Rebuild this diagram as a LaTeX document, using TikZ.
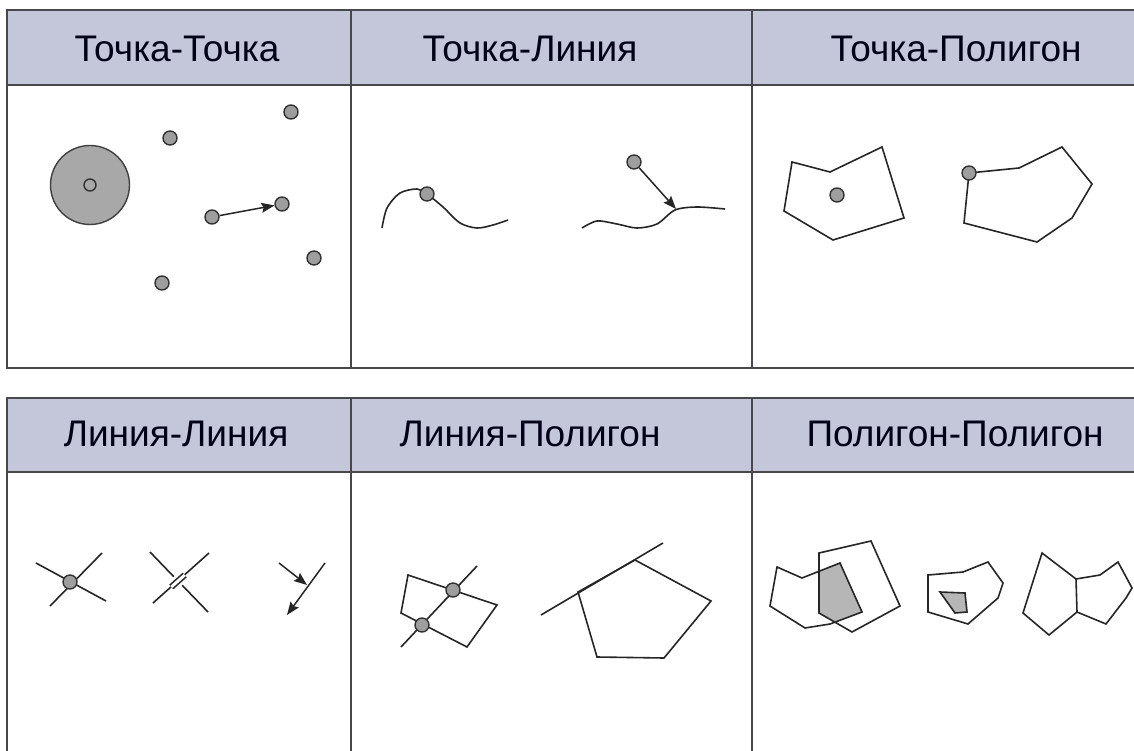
\documentclass[tikz,border=0pt]{standalone}
\usepackage{fontspec}
\setmainfont{Liberation Sans}
\usetikzlibrary{arrows.meta}
\definecolor{headfill}{RGB}{196,199,218}
\definecolor{rulecol}{RGB}{72,72,76}
\definecolor{ptfill}{RGB}{158,158,158}
\definecolor{zonefill}{RGB}{168,168,168}
\definecolor{polyfill}{RGB}{182,182,182}

\begin{document}
\begin{tikzpicture}[x=1pt,y=-1pt,>={Stealth[length=13pt,width=10pt,inset=2pt]},
  pt/.style={circle,draw=black!80,fill=ptfill,line width=1.4pt,inner sep=0pt,minimum size=14pt},
  shp/.style={draw=black!85,line width=1.6pt},
  arr/.style={->,draw=black!85,line width=1.5pt},
  hdr/.style={font=\fontsize{37}{42}\selectfont,text=black!85!blue!60!black}]
  \useasboundingbox (0,0) rectangle (1134,751);
  \fill[white] (0,0) rectangle (1134,751);
  % header bands
  \fill[headfill] (7,10) rectangle (1140,85);
  \fill[headfill] (7,398) rectangle (1140,472);
  % table rules
  \draw[rulecol,line width=2.2pt] (1140,10) -- (7,10) -- (7,368) -- (1140,368);
  \draw[rulecol,line width=2.2pt] (1140,398) -- (7,398) -- (7,760);
  \foreach \yy in {85,472}
    \draw[rulecol,line width=2.2pt] (7,\yy) -- (1140,\yy);
  \foreach \xx in {351,752} {
    \draw[rulecol,line width=1.6pt] (\xx,10) -- (\xx,368);
    \draw[rulecol,line width=1.6pt] (\xx,398) -- (\xx,760);
  }
  % headers
  \node[hdr] (hpp) at (177,49) {Точка-Точка};
  \node[hdr] (hpl) at (530,49) {Точка-Линия};
  \node[hdr] (hpg) at (956,49) {Точка-Полигон};
  \node[hdr] (hll) at (176,434) {Линия-Линия};
  \node[hdr] (hlg) at (530,434) {Линия-Полигон};
  \node[hdr] (hgg) at (955,434) {Полигон-Полигон};

  % point - point
  \node[pt,draw=black!75,fill=zonefill,minimum size=79pt] (zone) at (90,185) {};
  \node[pt,fill=zonefill,minimum size=12pt] (zc) at (90,185) {};
  \foreach \nm/\px/\py in {p1/170/138, p2/291/112, p3/212/217,
                           p4/282/204, p5/314/258, p6/162/283}
    \node[pt] (\nm) at (\px,\py) {};
  \draw[arr] (p3) -- (p4);

  % point - line
  \draw[shp] plot[smooth] coordinates {
    (382,228) (387,208) (400,193) (417,189) (427,194) (443,207)
    (460,223) (477,228) (493,225) (508,220)};
  \node[pt] (q1) at (427,194) {};
  \draw[shp] plot[smooth] coordinates {
    (582,228) (597,221) (617,224) (637,228) (657,224) (675,210)
    (697,207) (725,209)};
  \node[pt] (q2) at (634,162) {};
  \coordinate (q2hit) at (676,209);
  \draw[arr] (q2) -- (q2hit);

  % point - polygon
  \draw[shp] (792,162) -- (830,172) -- (882,147) -- (904,218) -- (833,240) -- (784,211) -- cycle;
  \node[pt] (r1) at (837,195) {};
  \draw[shp] (969,173) -- (1019,168) -- (1062,147) -- (1092,184) -- (1072,218) -- (1037,242) -- (964,223) -- cycle;
  \node[pt] (r2) at (969,173) {};

  % line - line: crossing with a point
  \draw[shp] (36,563) -- (106,601);
  \draw[shp] (50,606) -- (102,553);
  \node[pt] (s1) at (70,582) {};
  % line - line: bridge, no crossing
  \draw[shp] (150,552) -- (173.8,576.7);
  \draw[shp] (182.2,585.3) -- (208,612);
  \draw[shp] (153,603) -- (209,553);
  \draw[shp,double=white,double distance=3pt] (171.3,587) -- (184.7,575);
  % line - line: touching
  \coordinate (t1) at (279,563);
  \coordinate (t2) at (307,585);
  \coordinate (t3) at (325,563);
  \coordinate (t4) at (287,615);
  \draw[arr] (t1) -- (t2);
  \draw[arr] (t3) -- (t4);

  % line - polygon
  \draw[shp] (408,575) -- (497,605) -- (467,647) -- (401,613) -- cycle;
  \coordinate (la) at (477,566);
  \coordinate (lb) at (401,647);
  \draw[shp] (la) -- (lb);
  \node[pt] (u1) at (453,590) {};
  \node[pt] (u2) at (422,625) {};
  \draw[shp] (578,592) -- (635,560) -- (711,601) -- (664,658) -- (597,657) -- cycle;
  \coordinate (lc) at (541,615);
  \coordinate (ld) at (663,543);
  \draw[shp] (lc) -- (ld);

  % polygon - polygon: overlap
  \begin{scope}
    \clip (819,553) -- (871,541) -- (900,606) -- (852,632) -- (819,613) -- cycle;
    \fill[polyfill] (777,567) -- (802,578) -- (840,563) -- (862,612) -- (830,624) -- (805,628) -- (770,606) -- cycle;
  \end{scope}
  \draw[shp] (777,567) -- (802,578) -- (840,563) -- (862,612) -- (830,624) -- (805,628) -- (770,606) -- cycle;
  \draw[shp] (819,553) -- (871,541) -- (900,606) -- (852,632) -- (819,613) -- cycle;
  % polygon - polygon: inside
  \draw[shp] (928,575) -- (963,572) -- (988,562) -- (1003,583) -- (998,598) -- (968,624) -- (928,612) -- cycle;
  \draw[shp,fill=polyfill] (940,592) -- (965,593) -- (967,612) -- (955,613) -- cycle;
  % polygon - polygon: shared edge
  \draw[shp] (1042,553) -- (1076,579) -- (1077,612) -- (1049,635) -- (1023,613) -- cycle;
  \draw[shp] (1076,579) -- (1100,575) -- (1118,562) -- (1132,588) -- (1126,598) -- (1106,624) -- (1077,612);
\end{tikzpicture}
\end{document}
